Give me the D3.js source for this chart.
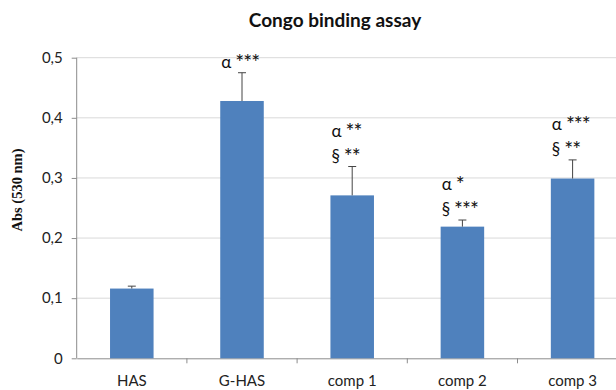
<!DOCTYPE html>
<html>
<head>
<meta charset="utf-8">
<script src="https://cdn.jsdelivr.net/npm/d3@7"></script>
<style>
  body { margin: 0; background: #fff; }
  svg { display: block; }
</style>
</head>
<body>
<svg id="chart" width="616" height="390"></svg>
<script>
// data
const categories = ["HAS", "G-HAS", "comp 1", "comp 2", "comp 3"];
const values = [0.116, 0.428, 0.271, 0.219, 0.299];
const errors = [0.004, 0.047, 0.048, 0.011, 0.031];
const yTicks = [0, 0.1, 0.2, 0.3, 0.4, 0.5];
// significance marks per bar: [symbol, stars] per line
const marks = [
  [],
  [["α", "***"]],
  [["α", "**"], ["§", "**"]],
  [["α", "*"], ["§", "***"]],
  [["α", "***"], ["§", "**"]]
];

const svg = d3.select("#chart");
const plotLeft = 76.7, plotRight = 627.7, plotTop = 57.7, plotBottom = 358.3;
const font = "Lato, 'Open Sans', sans-serif";

const x = d3.scaleBand()
  .domain(categories)
  .range([plotLeft, plotRight])
  .paddingInner(0.605)
  .paddingOuter(0.3025);

const y = d3.scaleLinear()
  .domain([0, 0.5])
  .range([plotBottom, plotTop]);

const fmt = d => d === 0 ? "0" : d3.format(".1f")(d).replace(".", ",");

// title
svg.append("text")
  .attr("x", 335)
  .attr("y", 27)
  .attr("text-anchor", "middle")
  .attr("font-family", font)
  .attr("font-weight", "bold")
  .attr("font-size", 19)
  .attr("fill", "#111")
  .text("Congo binding assay");

// gridlines
svg.append("g")
  .selectAll("line")
  .data(yTicks.filter(d => d > 0))
  .join("line")
  .attr("x1", plotLeft)
  .attr("x2", 616)
  .attr("y1", d => y(d))
  .attr("y2", d => y(d))
  .attr("stroke", "#d9d9d9");

// y axis
const yAxis = svg.append("g")
  .attr("transform", `translate(${plotLeft},0)`)
  .call(d3.axisLeft(y).tickValues(yTicks).tickFormat(fmt).tickSize(5).tickPadding(9));
yAxis.select(".domain").attr("stroke", "#8c8c8c").attr("d", `M0,${plotTop}V${plotBottom}`);
yAxis.selectAll(".tick line").attr("stroke", "#8c8c8c");
yAxis.selectAll(".tick text")
  .attr("font-family", font)
  .attr("font-size", 15)
  .attr("fill", "#222");

// x axis
const xAxis = svg.append("g")
  .attr("transform", `translate(0,${plotBottom})`)
  .call(d3.axisBottom(x).tickSize(0).tickPadding(17));
xAxis.select(".domain").attr("stroke", "#8c8c8c");
xAxis.selectAll(".tick text")
  .attr("font-family", font)
  .attr("font-size", 15)
  .attr("fill", "#222");

// category separator ticks
svg.append("g")
  .selectAll("line")
  .data(categories.slice(1))
  .join("line")
  .attr("x1", d => x(d) - x.step() * x.paddingInner() / 2)
  .attr("x2", d => x(d) - x.step() * x.paddingInner() / 2)
  .attr("y1", plotBottom)
  .attr("y2", plotBottom + 5)
  .attr("stroke", "#8c8c8c");

// y label
svg.append("text")
  .attr("transform", "translate(22,190) rotate(-90)")
  .attr("text-anchor", "middle")
  .attr("font-family", "'Liberation Serif', serif")
  .attr("font-weight", "bold")
  .attr("font-size", 14.5)
  .attr("fill", "#111")
  .text("Abs (530 nm)");

// bars
svg.append("g")
  .selectAll("rect")
  .data(categories)
  .join("rect")
  .attr("x", d => x(d))
  .attr("width", x.bandwidth())
  .attr("y", (d, i) => y(values[i]))
  .attr("height", (d, i) => y(0) - y(values[i]))
  .attr("fill", "#4f81bd");

// error bars (upper only)
const err = svg.append("g").attr("stroke", "#444").attr("stroke-width", 1);
categories.forEach((c, i) => {
  const cx = x(c) + x.bandwidth() / 2;
  err.append("line")
    .attr("x1", cx).attr("x2", cx)
    .attr("y1", y(values[i])).attr("y2", y(values[i] + errors[i]));
  err.append("line")
    .attr("x1", cx - 4).attr("x2", cx + 4)
    .attr("y1", y(values[i] + errors[i])).attr("y2", y(values[i] + errors[i]));
});

// significance labels
categories.forEach((c, i) => {
  const lines = marks[i];
  const base = y(values[i] + errors[i]) - 5;
  lines.forEach((m, j) => {
    const t = svg.append("text")
      .attr("x", x(c) + 1)
      .attr("y", base - (lines.length - 1 - j) * 25)
      .attr("font-family", font)
      .attr("font-size", 17)
      .attr("fill", "#111");
    t.append("tspan").text(m[0]);
    t.append("tspan")
      .attr("dx", 4)
      .attr("dy", 2)
      .attr("font-size", 21)
      .attr("letter-spacing", -1)
      .text(m[1]);
  });
});
</script>
</body>
</html>
